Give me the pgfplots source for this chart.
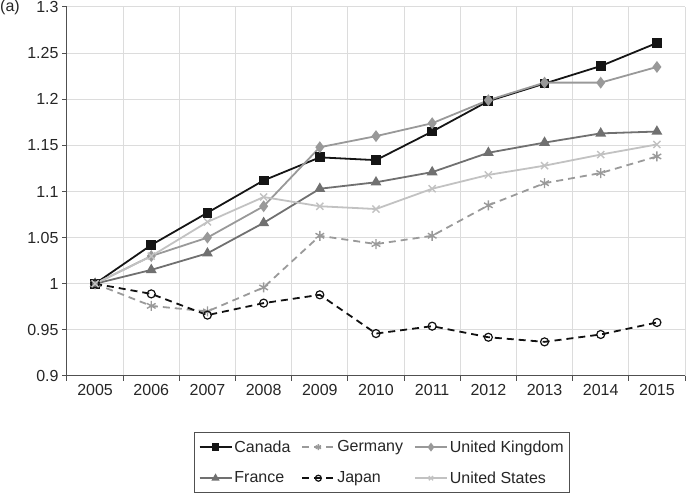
\documentclass[border=0pt]{standalone}
\usepackage{pgfplots}
\pgfplotsset{compat=1.18}
\usepackage{fontspec}
\setmainfont{Liberation Sans}
\definecolor{cCan}{HTML}{151515}
\definecolor{cGer}{HTML}{9A9A9A}
\definecolor{cUK}{HTML}{999999}
\definecolor{cFra}{HTML}{707070}
\definecolor{cJap}{HTML}{111111}
\definecolor{cUS}{HTML}{C2C2C2}
\definecolor{axc}{HTML}{505050}
\definecolor{gridc}{HTML}{DCDCDC}
\newcommand{\fs}{\fontsize{16}{19}\selectfont}
\begin{document}
\begin{tikzpicture}
\path[use as bounding box] (-67pt,-126pt) rectangle (619pt,376pt);
\begin{axis}[
  at={(0pt,0pt)}, anchor=south west,
  scale only axis, width=618pt, height=369pt,
  xmin=2004.5, xmax=2015.5, ymin=0.9, ymax=1.3,
  axis x line*=bottom, axis y line*=left,
  axis line style={axc, line width=1pt},
  tick align=outside, major tick length=5pt, minor tick length=5pt,
  every tick/.style={axc, line width=1pt},
  xtick={2005,2006,2007,2008,2009,2010,2011,2012,2013,2014,2015},
  xticklabels={2005,2006,2007,2008,2009,2010,2011,2012,2013,2014,2015},
  major x tick style={draw=none},
  minor xtick={2004.5,2005.5,2006.5,2007.5,2008.5,2009.5,2010.5,2011.5,2012.5,2013.5,2014.5,2015.5},
  xminorgrids=true, ymajorgrids=true, xmajorgrids=false,
  minor grid style={gridc, line width=1pt},
  major grid style={gridc, line width=1pt},
  ytick={0.9,0.95,1,1.05,1.1,1.15,1.2,1.25,1.3},
  yticklabels={0.9,0.95,1,1.05,1.1,1.15,1.2,1.25,1.3},
  tick label style={font=\fs, text=black!85},
  every axis plot/.append style={line width=1.8pt},
  legend style={at={(axis description cs:0.51,-0.152)}, anchor=north,
    draw=axc, line width=1pt, fill=white, font=\fs, text=black!85,
    inner xsep=4pt, inner ysep=6pt, row sep=14pt,
    /tikz/every even column/.append style={column sep=9pt}},
  legend columns=3,
  legend cell align=left,
  legend image code/.code={\draw[mark repeat=2,mark phase=2,#1, mark size=3pt] plot coordinates {(0pt,0pt) (16pt,0pt) (32pt,0pt)};},
]
\addplot[cCan, mark=square*, mark size=4pt, mark options={solid, fill=cCan, draw=cCan}] coordinates {
(2005,1.000) (2006,1.042) (2007,1.077) (2008,1.112) (2009,1.137) (2010,1.134)
(2011,1.165) (2012,1.198) (2013,1.217) (2014,1.236) (2015,1.261)};
\addlegendentry{Canada}
\addplot[cGer, dashed, dash pattern=on 7pt off 5pt, mark=asterisk, mark size=5pt, mark options={solid, draw=cGer, line width=1.4pt}] coordinates {
(2005,1.000) (2006,0.976) (2007,0.970) (2008,0.996) (2009,1.052) (2010,1.043)
(2011,1.052) (2012,1.085) (2013,1.109) (2014,1.120) (2015,1.138)};
\addlegendentry{Germany}
\addplot[cUK, mark=diamond*, mark size=4.5pt, mark options={solid, fill=cUK, draw=cUK}] coordinates {
(2005,1.000) (2006,1.030) (2007,1.050) (2008,1.084) (2009,1.148) (2010,1.160)
(2011,1.174) (2012,1.199) (2013,1.218) (2014,1.218) (2015,1.235)};
\addlegendentry{United Kingdom}
\addplot[cFra, mark=triangle*, mark size=4.5pt, mark options={solid, fill=cFra, draw=cFra}] coordinates {
(2005,1.000) (2006,1.015) (2007,1.033) (2008,1.066) (2009,1.103) (2010,1.110)
(2011,1.121) (2012,1.142) (2013,1.153) (2014,1.163) (2015,1.165)};
\addlegendentry{France}
\addplot[cJap, dashed, dash pattern=on 7pt off 5pt, mark=o, mark size=4pt, mark options={solid, fill=white, draw=cJap, line width=1.2pt}] coordinates {
(2005,1.000) (2006,0.989) (2007,0.966) (2008,0.979) (2009,0.988) (2010,0.946)
(2011,0.954) (2012,0.942) (2013,0.937) (2014,0.945) (2015,0.958)};
\addlegendentry{Japan}
\addplot[cUS, mark=x, mark size=5pt, mark options={solid, draw=cUS, line width=1.4pt}] coordinates {
(2005,1.000) (2006,1.030) (2007,1.067) (2008,1.094) (2009,1.084) (2010,1.081)
(2011,1.103) (2012,1.118) (2013,1.128) (2014,1.140) (2015,1.151)};
\addlegendentry{United States}
\end{axis}
\node[anchor=west, inner sep=0pt, font=\fs, text=black!85] at (-67pt,369pt) {(a)};
\end{tikzpicture}
\end{document}
